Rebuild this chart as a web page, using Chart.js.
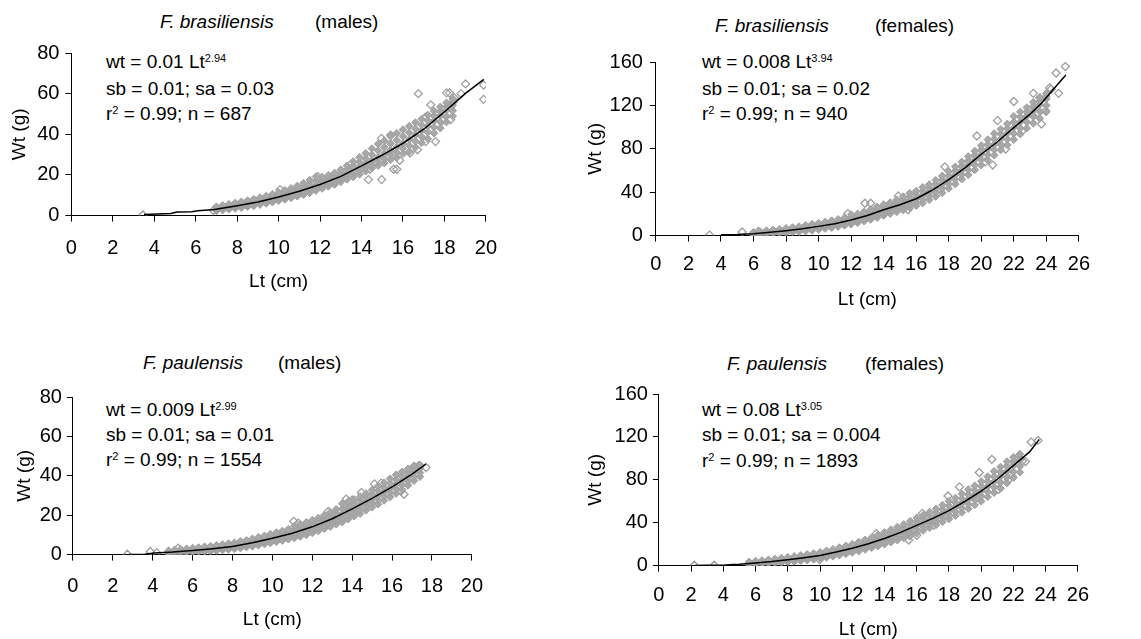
<!DOCTYPE html>
<html>
<head>
<meta charset="utf-8">
<script src="https://cdn.jsdelivr.net/npm/chart.js@4/dist/chart.umd.min.js"></script>
<style>
  body { margin: 0; background: #fff; width: 1141px; height: 639px; position: relative; overflow: hidden;
         font-family: "Liberation Sans", Arial, sans-serif; color: #000; }
  canvas { position: absolute; }
  .txt { position: absolute; font-size: 19px; line-height: 22px; white-space: nowrap; }
  .txt sup { font-size: 11px; line-height: 0; vertical-align: 6px; }
</style>
</head>
<body>

<!-- Títulos de cada panel -->
<div class="txt" style="left:160px;top:11px"><i>F. brasiliensis</i></div>
<div class="txt" style="left:315px;top:11px">(males)</div>
<div class="txt" style="left:715px;top:15px"><i>F. brasiliensis</i></div>
<div class="txt" style="left:875px;top:15px">(females)</div>
<div class="txt" style="left:143px;top:352px"><i>F. paulensis</i></div>
<div class="txt" style="left:278px;top:352px">(males)</div>
<div class="txt" style="left:727px;top:353px"><i>F. paulensis</i></div>
<div class="txt" style="left:865px;top:353px">(females)</div>

<!-- Ecuaciones -->
<div class="txt" style="left:106px;top:51px">wt = 0.01 Lt<sup>2.94</sup></div>
<div class="txt" style="left:106px;top:78px">sb = 0.01; sa = 0.03</div>
<div class="txt" style="left:106px;top:103px">r<sup>2</sup> = 0.99; n = 687</div>

<div class="txt" style="left:702px;top:51px">wt = 0.008 Lt<sup>3.94</sup></div>
<div class="txt" style="left:702px;top:78px">sb = 0.01; sa = 0.02</div>
<div class="txt" style="left:702px;top:103px">r<sup>2</sup> = 0.99; n = 940</div>

<div class="txt" style="left:106px;top:399px">wt = 0.009 Lt<sup>2.99</sup></div>
<div class="txt" style="left:106px;top:424px">sb = 0.01; sa = 0.01</div>
<div class="txt" style="left:106px;top:449px">r<sup>2</sup> = 0.99; n = 1554</div>

<div class="txt" style="left:702px;top:399px">wt = 0.08 Lt<sup>3.05</sup></div>
<div class="txt" style="left:702px;top:424px">sb = 0.01; sa = 0.004</div>
<div class="txt" style="left:702px;top:450px">r<sup>2</sup> = 0.99; n = 1893</div>

<script>
//F. brasiliensis machos: nube densa (cada Lt con 5 pesos leídos de abajo a arriba), puntos sueltos y curva ajustada
const bmLt    = [7.0,7.3,7.6,7.9,8.2,8.5,8.8,9.1,9.4,9.7,10.0,10.3,10.6,10.9,11.2,11.5,11.8,12.1,12.4,12.7,13.0,13.3,13.6,13.9,14.2,14.5,14.8,15.1,15.4,15.7,16.0,16.3,16.6,16.9,17.2,17.5,17.8,18.1,18.4];
const bmHigh  = [4.4,5.0,5.6,6.2,6.8,7.4,8.1,8.9,9.6,10.5,11.4,12.5,13.4,14.6,16.0,17.5,19.2,19.0,19.8,21.0,22.6,24.5,26.6,28.7,30.6,33.0,35.2,36.8,39.0,40.5,42.3,44.0,45.8,47.5,49.5,51.5,53.5,55.5,57.5];
const bmUpper = [3.8,4.4,4.9,5.5,6.0,6.6,7.3,8.0,8.6,9.4,10.3,11.2,12.2,13.1,14.3,15.5,16.9,17.3,18.3,19.5,21.0,22.6,24.4,26.3,28.0,30.0,32.0,33.6,35.5,37.1,39.0,40.8,42.7,44.6,46.8,49.0,51.3,53.6,55.9];
const bmMid   = [3.2,3.7,4.2,4.7,5.2,5.8,6.4,7.0,7.7,8.4,9.2,10.0,10.9,11.7,12.6,13.6,14.6,15.7,16.8,18.0,19.3,20.7,22.2,23.9,25.5,27.1,28.7,30.4,32.1,33.8,35.6,37.6,39.7,41.8,44.1,46.6,49.2,51.8,54.3];
const bmLower = [2.8,3.2,3.6,4.1,4.5,5.1,5.6,6.2,6.8,7.5,8.2,9.0,9.8,10.6,11.4,12.4,13.4,14.5,15.6,16.6,18.0,19.2,20.6,22.1,23.6,25.2,26.6,28.1,29.8,31.1,33.0,34.5,36.6,38.8,41.0,43.5,46.1,48.9,51.6];
const bmLow   = [2.4,2.7,3.1,3.5,3.9,4.4,4.8,5.4,6.0,6.6,7.3,8.0,8.7,9.5,10.3,11.2,12.3,13.3,14.4,15.3,16.6,17.8,19.0,20.3,21.8,23.4,24.6,25.8,27.5,28.5,30.4,31.5,33.6,35.8,37.8,40.5,43.0,46.0,49.0];
const bmOutLt = [3.45,6.86,10.07,11.9,13.47,14.33,14.4,14.96,14.97,15.4,15.55,15.7,15.84,16.34,16.74,17.34,17.08,17.1,16.7,17.57,17.9,18.3,18.24,18.1,18.42,19.02,18.47,19.89,19.89,18.8];
const bmOutWt = [0.3,2.5,12.8,19.2,25.2,17.7,22.8,38.0,17.7,39.6,22.8,22.8,27.2,30.8,60.0,54.5,48.4,36.4,32.4,36.4,46.8,47.3,60.4,60.4,55.9,64.8,58.0,64.2,57.2,60.0];
const bmFitLt = [3.5,4.8,5.1,5.8,6.1,6.9,8,9,10,11,12,13,14,15,16,17,18,19,19.9];
const bmFitWt = [0.6,1.0,1.8,1.9,2.4,3.0,4.9,6.7,9.2,12.0,15.3,19.3,24.5,29.8,35.6,42.5,51.0,60.0,67.0];

//F. brasiliensis hembras
const bfLt    = [6.0,6.4,6.8,7.2,7.6,8.0,8.4,8.8,9.2,9.6,10.0,10.4,10.8,11.2,11.6,12.0,12.4,12.8,13.2,13.6,14.0,14.4,14.8,15.2,15.6,16.0,16.4,16.8,17.2,17.6,18.0,18.4,18.8,19.2,19.6,20.0,20.4,20.8,21.2,21.6,22.0,22.4,22.8,23.2,23.6,24.0];
const bfHigh  = [3.0,3.8,4.6,5.2,5.9,6.7,7.5,8.4,9.5,10.6,11.5,12.6,13.8,15.0,16.5,19.5,20.0,22.0,24.0,26.5,28.6,30.5,33.0,36.0,39.0,41.0,44.5,47.0,51.0,55.0,59.0,63.5,68.0,73.0,78.0,83.0,88.5,94.0,98.0,103.0,110.0,114.0,118.0,123.0,127.0,131.0];
const bfUpper = [2.3,3.0,3.6,4.2,4.9,5.6,6.3,7.1,8.1,9.1,10.0,11.0,12.1,13.3,14.7,16.9,18.0,19.8,21.7,24.0,26.2,28.0,30.2,32.8,35.4,37.5,40.8,43.7,47.4,51.3,55.2,59.7,64.1,69.0,74.0,79.0,84.0,89.1,93.5,98.6,104.7,109.3,114.1,119.3,123.8,128.5];
const bfMid   = [1.6,2.1,2.7,3.3,3.9,4.5,5.2,5.9,6.7,7.6,8.5,9.5,10.5,11.6,12.9,14.3,15.9,17.6,19.5,21.6,23.8,25.6,27.5,29.6,31.8,34.0,37.2,40.4,43.9,47.7,51.5,55.9,60.3,65.0,70.0,75.0,79.6,84.2,89.1,94.3,99.5,104.7,110.3,115.6,120.6,126.0];
const bfLower = [1.0,1.4,1.8,2.4,3.0,3.5,4.1,4.7,5.4,6.2,7.0,8.0,8.9,9.9,11.1,12.4,13.8,15.4,17.1,19.0,21.2,22.9,24.6,26.5,28.6,30.7,33.6,36.7,39.9,43.6,47.5,51.7,56.1,60.5,65.2,70.0,74.5,79.1,84.0,88.9,94.0,99.1,104.6,109.5,114.3,120.0];
const bfLow   = [0.5,0.8,1.0,1.6,2.0,2.5,3.0,3.5,4.1,4.8,5.6,6.5,7.3,8.3,9.4,10.5,11.8,13.3,14.8,16.5,18.6,20.2,21.8,23.5,25.5,27.5,30.0,33.0,36.0,39.5,43.5,47.5,52.0,56.0,60.5,65.0,69.5,74.0,79.0,83.5,88.5,93.5,99.0,103.5,108.0,114.0];
const bfOutLt = [3.3,5.3,6.3,11.8,12.85,13.2,14.9,15.5,17.76,17.3,19.73,20.24,20.7,21.0,21.5,22.0,22.5,23.2,23.5,23.7,23.95,23.6,24.3,24.6,24.75,25.17,24.2];
const bfOutWt = [0.5,3.3,3.8,20.3,29.8,29.8,36.6,23.8,63.4,38.7,91.8,67.9,65.0,106.0,79.8,123.6,96.2,131.1,113.0,102.8,115.0,127.0,135.0,149.9,131.1,155.8,136.0];
const bfFitLt = [4.0,5.0,6.0,7.0,8.0,9.0,10.0,11.0,12.0,13.0,14.0,15.0,16.0,17.0,18.0,19.0,20.0,21.0,22.0,23.0,23.7,24.5,25.2];
const bfFitWt = [0.8,1.0,1.6,3.0,4.5,6.3,8.5,11.0,14.3,18.5,23.8,28.5,34.0,42.0,51.5,62.5,75.0,86.5,99.5,112.0,122.0,136.0,148.0];

//F. paulensis machos
const pmLt    = [4.8,5.1,5.4,5.7,6.0,6.3,6.6,6.9,7.2,7.5,7.8,8.1,8.4,8.7,9.0,9.3,9.6,9.9,10.2,10.5,10.8,11.1,11.4,11.7,12.0,12.3,12.6,12.9,13.2,13.5,13.8,14.1,14.4,14.7,15.0,15.3,15.6,15.9,16.2,16.5,16.8,17.1,17.4];
const pmHigh  = [2.0,2.4,2.7,3.0,3.3,3.6,4.0,4.3,4.7,5.1,5.6,6.0,6.7,7.3,8.0,8.8,9.5,10.4,11.2,12.0,12.9,14.5,15.2,16.4,17.5,18.6,20.0,21.5,23.0,25.8,27.0,28.0,29.5,31.0,32.8,34.8,36.5,38.5,40.5,42.0,43.5,45.0,45.5];
const pmUpper = [1.5,1.9,2.2,2.4,2.7,3.0,3.3,3.6,4.0,4.3,4.7,5.1,5.7,6.3,7.0,7.7,8.4,9.2,10.0,10.7,11.6,12.8,13.6,14.7,15.8,17.0,18.3,19.6,21.1,23.1,24.6,25.8,27.4,29.0,30.6,32.5,34.2,36.1,38.1,39.8,41.5,43.3,44.6];
const pmMid   = [1.1,1.35,1.6,1.85,2.1,2.35,2.6,2.9,3.2,3.5,3.9,4.2,4.8,5.4,6.0,6.7,7.4,8.1,8.8,9.5,10.3,11.1,12.1,13.1,14.1,15.3,16.6,17.8,19.2,20.5,22.2,23.7,25.3,26.9,28.5,30.3,32.0,33.8,35.7,37.6,39.6,41.6,43.8];
const pmLower = [0.7,0.9,1.1,1.4,1.6,1.8,2.0,2.3,2.6,2.9,3.2,3.5,4.0,4.6,5.1,5.7,6.4,7.0,7.6,8.3,9.0,9.7,10.6,11.5,12.5,13.6,14.8,16.0,17.3,18.5,20.1,21.6,23.0,24.7,26.2,27.9,29.7,31.5,33.3,35.3,37.4,39.5,41.6];
const pmLow   = [0.3,0.5,0.7,0.9,1.1,1.3,1.5,1.7,2.0,2.3,2.6,2.9,3.3,3.8,4.2,4.8,5.4,5.9,6.5,7.1,7.8,8.4,9.2,10.0,11.0,12.0,13.1,14.2,15.4,16.5,18.0,19.5,20.8,22.5,24.0,25.6,27.5,29.3,31.0,33.0,35.2,37.5,39.5];
const pmOutLt = [2.73,3.88,4.2,5.27,11.07,11.3,12.8,13.7,14.0,14.46,15.12,15.45,16.6,16.45,17.34,17.7,17.1];
const pmOutWt = [0.2,1.6,1.0,3.3,16.9,16.0,21.9,28.2,27.7,31.5,35.9,36.3,30.6,32.3,45.2,44.2,44.7];
const pmFitLt = [2.8,3.6,4.1,5,6,7,8,9,10,11,12,13,14,15,16,17,17.7];
const pmFitWt = [0.1,0.2,0.8,1.3,2.1,3.0,4.1,6.0,8.3,10.8,14.1,18.2,23.2,28.5,34.4,40.8,46.0];

//F. paulensis hembras
const pfLt    = [5.6,6.0,6.4,6.8,7.2,7.6,8.0,8.4,8.8,9.2,9.6,10.0,10.4,10.8,11.2,11.6,12.0,12.4,12.8,13.2,13.6,14.0,14.4,14.8,15.2,15.6,16.0,16.4,16.8,17.2,17.6,18.0,18.4,18.8,19.2,19.6,20.0,20.4,20.8,21.2,21.6,22.0,22.4];
const pfHigh  = [3.5,4.2,4.8,5.5,6.2,7.0,7.8,8.6,9.5,10.5,11.3,12.4,13.8,15.2,16.8,18.4,20.0,22.0,24.0,26.0,28.5,31.0,33.5,36.0,38.5,41.5,44.5,47.0,50.0,53.0,56.5,60.0,63.0,67.0,71.0,74.5,78.5,83.0,88.0,92.0,97.0,101.0,104.0];
const pfUpper = [2.7,3.3,3.9,4.5,5.1,5.9,6.6,7.4,8.2,9.1,9.9,10.9,12.2,13.6,15.0,16.5,18.1,19.9,21.7,23.6,25.9,28.1,30.5,32.9,35.3,38.1,41.0,43.5,46.3,49.2,52.4,55.6,58.8,62.6,66.4,70.1,74.0,78.4,83.1,87.5,92.5,97.1,101.1];
const pfMid   = [2.0,2.5,3.0,3.5,4.1,4.8,5.5,6.2,6.9,7.7,8.5,9.4,10.7,12.0,13.3,14.7,16.2,17.8,19.5,21.3,23.3,25.3,27.5,29.8,32.2,34.8,37.5,40.0,42.7,45.4,48.3,51.2,54.6,58.2,61.9,65.7,69.5,73.8,78.3,83.0,88.0,93.2,98.3];
const pfLower = [1.3,1.7,2.1,2.6,3.1,3.7,4.4,5.0,5.7,6.4,7.1,8.0,9.1,10.3,11.5,12.8,14.2,15.6,17.2,18.9,20.7,22.6,24.6,26.7,29.0,31.4,33.9,36.4,39.0,41.7,44.5,47.3,50.5,53.8,57.4,61.1,64.7,68.9,73.1,77.5,82.5,87.6,92.6];
const pfLow   = [0.6,0.9,1.3,1.7,2.2,2.7,3.3,3.9,4.5,5.1,5.8,6.6,7.6,8.6,9.7,10.9,12.2,13.5,15.0,16.6,18.2,20.0,21.8,23.6,25.8,28.0,30.3,32.8,35.3,38.0,40.8,43.5,46.5,49.5,53.0,56.5,60.0,64.0,68.0,72.0,77.0,82.0,87.0];
const pfOutLt = [2.2,3.43,9.97,13.5,15.5,16.0,15.55,16.35,17.05,17.94,18.65,19.88,19.88,20.66,21.07,21.7,21.93,22.2,22.55,22.75,23.1,23.53,21.7];
const pfOutWt = [0.3,0.3,5.5,29.8,23.8,28.3,28.0,48.7,37.5,64.9,73.4,86.8,66.0,99.0,71.0,93.9,83.2,100.0,97.5,97.0,115.2,116.7,80.0];
const pfFitLt = [2.2,3,4,4.6,5,6,7,8,9,10,11,12,13,14,15,16,17,18,19,20,21,22,23,23.6];
const pfFitWt = [0.2,0.3,0.4,1.0,1.2,2.5,3.8,5.5,7.3,9.4,12.6,16.2,20.3,25.3,31.0,37.5,44.0,51.2,60.0,69.5,80.5,93.2,106.0,117.6];

//Ticks de los ejes
const ticksX20 = [0,2,4,6,8,10,12,14,16,18,20];
const ticksX26 = [0,2,4,6,8,10,12,14,16,18,20,22,24,26];
const ticksY80 = [0,20,40,60,80];
const ticksY160 = [0,40,80,120,160];

const pares = (xs, ys) => xs.map((x, i) => ({x: x, y: ys[i]}));
const nube = (lt, filas) => filas.reduce((acc, f) => acc.concat(pares(lt, f)), []);

const fuente = '"Liberation Sans", Arial, sans-serif';
const gris = '#9e9e9e';

function panel(p) {
    const padTop = 14, padRight = 18;
    const ly = p.yTitleGap + 13.4;
    const lb = p.xTitleGap + 13.4;
    const c = document.createElement('canvas');
    c.width = Math.round(ly + (p.plot[2] - p.plot[0]) + padRight);
    c.height = Math.round(padTop + (p.plot[3] - p.plot[1]) + lb);
    c.style.left = (p.plot[0] - ly) + 'px';
    c.style.top = (p.plot[1] - padTop) + 'px';
    document.body.appendChild(c);

    new Chart(c, {
        type: 'scatter',
        data: {
            datasets: [
                { data: pares(p.fitLt, p.fitWt), showLine: true, pointRadius: 0, borderColor: '#000', borderWidth: 1.5, tension: 0 },
                { data: p.band, pointStyle: 'rectRot', pointRadius: 3.8, backgroundColor: '#a8a8a8', borderColor: gris, borderWidth: 1 },
                { data: pares(p.outLt, p.outWt), pointStyle: 'rectRot', pointRadius: 4, backgroundColor: 'rgba(255,255,255,0)', borderColor: gris, borderWidth: 1.3 }
            ]
        },
        options: {
            responsive: false,
            animation: false,
            layout: { padding: { top: padTop, right: padRight, left: 0, bottom: 0 } },
            plugins: { legend: { display: false }, tooltip: { enabled: false } },
            scales: {
                x: {
                    type: 'linear', min: 0, max: p.xTicks[p.xTicks.length - 1],
                    afterBuildTicks: s => { s.ticks = p.xTicks.map(v => ({value: v})); },
                    afterFit: s => { s.height = lb; },
                    grid: { drawOnChartArea: false, tickLength: 6, color: '#000' },
                    border: { color: '#000', width: 1 },
                    ticks: { color: '#000', font: { family: fuente, size: 20 }, padding: p.xTickPad, maxRotation: 0, autoSkip: false },
                    title: { display: true, text: 'Lt (cm)', color: '#000', font: { family: fuente, size: 19 }, padding: { top: 0, bottom: 2 } }
                },
                y: {
                    type: 'linear', min: 0, max: p.yTicks[p.yTicks.length - 1],
                    afterBuildTicks: s => { s.ticks = p.yTicks.map(v => ({value: v})); },
                    afterFit: s => { s.width = ly; },
                    grid: { drawOnChartArea: false, tickLength: 6, color: '#000' },
                    border: { color: '#000', width: 1 },
                    ticks: { color: '#000', font: { family: fuente, size: 20 }, padding: p.yTickPad },
                    title: { display: true, text: 'Wt (g)', color: '#000', font: { family: fuente, size: 19 }, padding: { top: 2, bottom: 0 } }
                }
            }
        }
    });
}

panel({ plot: [71, 49, 494, 216], yTitleGap: 52, xTitleGap: 66, xTickPad: 15, yTickPad: 6,
        xTicks: ticksX20, yTicks: ticksY80,
        band: nube(bmLt, [bmLow, bmLower, bmMid, bmUpper, bmHigh]),
        outLt: bmOutLt, outWt: bmOutWt, fitLt: bmFitLt, fitWt: bmFitWt });
panel({ plot: [656, 57, 1083, 236], yTitleGap: 60.5, xTitleGap: 64, xTickPad: 11, yTickPad: 7,
        xTicks: ticksX26, yTicks: ticksY160,
        band: nube(bfLt, [bfLow, bfLower, bfMid, bfUpper, bfHigh]),
        outLt: bfOutLt, outWt: bfOutWt, fitLt: bfFitLt, fitWt: bfFitWt });
panel({ plot: [73, 394, 479, 555], yTitleGap: 48.5, xTitleGap: 65, xTickPad: 14, yTickPad: 5,
        xTicks: ticksX20, yTicks: ticksY80,
        band: nube(pmLt, [pmLow, pmLower, pmMid, pmUpper, pmHigh]),
        outLt: pmOutLt, outWt: pmOutWt, fitLt: pmFitLt, fitWt: pmFitWt });
panel({ plot: [659, 391, 1083, 566], yTitleGap: 63.5, xTitleGap: 64, xTickPad: 12, yTickPad: 5,
        xTicks: ticksX26, yTicks: ticksY160,
        band: nube(pfLt, [pfLow, pfLower, pfMid, pfUpper, pfHigh]),
        outLt: pfOutLt, outWt: pfOutWt, fitLt: pfFitLt, fitWt: pfFitWt });
</script>
</body>
</html>
